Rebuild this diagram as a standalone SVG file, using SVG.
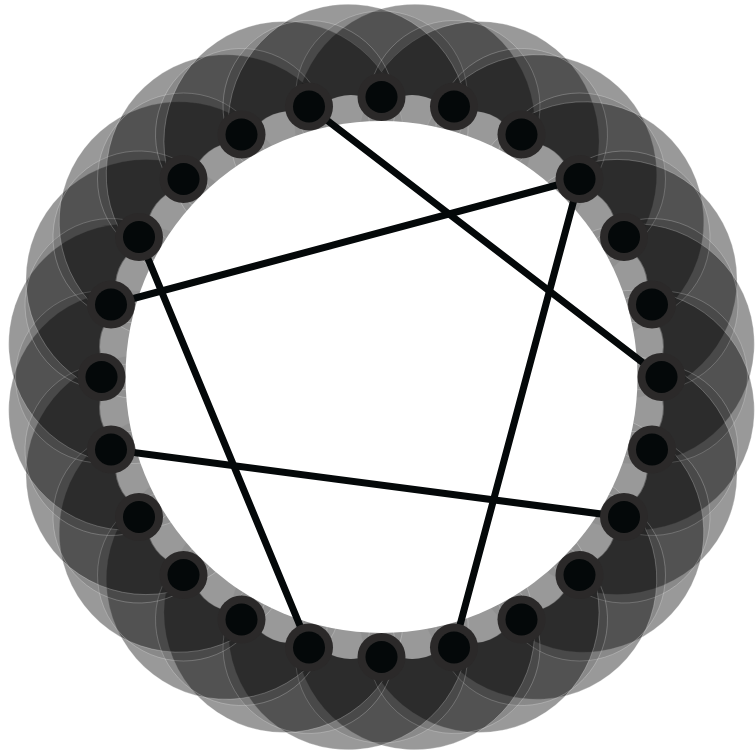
<svg xmlns="http://www.w3.org/2000/svg" width="755" height="754" viewBox="0 0 755 754">
<style>
.halo{fill:#000;fill-opacity:0.4;stroke:#fff;stroke-opacity:0.35;stroke-width:0.8}
.halo2{fill:#000;fill-opacity:0.1;stroke:#fff;stroke-opacity:0.3;stroke-width:0.7}
.cres{fill:#fff}
.edge{stroke:#040809;stroke-width:7;fill:none;stroke-linecap:round}
.ring{fill:#2b2929}
.dot{fill:#040809}
</style>
<defs>
<circle id="hc" class="halo" cx="0" cy="-255" r="120"/>
<circle id="hn" class="halo2" cx="0" cy="-280" r="86"/>
<ellipse id="cc" class="cres" cx="0" cy="-257" rx="36" ry="27"/>
</defs>
<rect width="755" height="754" fill="#fff"/>
<g id="halos" transform="translate(381.5,377)">
<use href="#hc" transform="rotate(7.5)"/>
<use href="#hc" transform="rotate(22.5)"/>
<use href="#hc" transform="rotate(37.5)"/>
<use href="#hc" transform="rotate(52.5)"/>
<use href="#hc" transform="rotate(67.5)"/>
<use href="#hc" transform="rotate(82.5)"/>
<use href="#hc" transform="rotate(97.5)"/>
<use href="#hc" transform="rotate(112.5)"/>
<use href="#hc" transform="rotate(127.5)"/>
<use href="#hc" transform="rotate(142.5)"/>
<use href="#hc" transform="rotate(157.5)"/>
<use href="#hc" transform="rotate(172.5)"/>
<use href="#hc" transform="rotate(187.5)"/>
<use href="#hc" transform="rotate(202.5)"/>
<use href="#hc" transform="rotate(217.5)"/>
<use href="#hc" transform="rotate(232.5)"/>
<use href="#hc" transform="rotate(247.5)"/>
<use href="#hc" transform="rotate(262.5)"/>
<use href="#hc" transform="rotate(277.5)"/>
<use href="#hc" transform="rotate(292.5)"/>
<use href="#hc" transform="rotate(307.5)"/>
<use href="#hc" transform="rotate(322.5)"/>
<use href="#hc" transform="rotate(337.5)"/>
<use href="#hc" transform="rotate(352.5)"/>
<use href="#hn" transform="rotate(0)"/>
<use href="#hn" transform="rotate(15)"/>
<use href="#hn" transform="rotate(30)"/>
<use href="#hn" transform="rotate(45)"/>
<use href="#hn" transform="rotate(60)"/>
<use href="#hn" transform="rotate(75)"/>
<use href="#hn" transform="rotate(90)"/>
<use href="#hn" transform="rotate(105)"/>
<use href="#hn" transform="rotate(120)"/>
<use href="#hn" transform="rotate(135)"/>
<use href="#hn" transform="rotate(150)"/>
<use href="#hn" transform="rotate(165)"/>
<use href="#hn" transform="rotate(180)"/>
<use href="#hn" transform="rotate(195)"/>
<use href="#hn" transform="rotate(210)"/>
<use href="#hn" transform="rotate(225)"/>
<use href="#hn" transform="rotate(240)"/>
<use href="#hn" transform="rotate(255)"/>
<use href="#hn" transform="rotate(270)"/>
<use href="#hn" transform="rotate(285)"/>
<use href="#hn" transform="rotate(300)"/>
<use href="#hn" transform="rotate(315)"/>
<use href="#hn" transform="rotate(330)"/>
<use href="#hn" transform="rotate(345)"/>
<g opacity="0.52">
<use href="#cc" transform="rotate(7.5)"/>
<use href="#cc" transform="rotate(22.5)"/>
<use href="#cc" transform="rotate(37.5)"/>
<use href="#cc" transform="rotate(52.5)"/>
<use href="#cc" transform="rotate(67.5)"/>
<use href="#cc" transform="rotate(82.5)"/>
<use href="#cc" transform="rotate(97.5)"/>
<use href="#cc" transform="rotate(112.5)"/>
<use href="#cc" transform="rotate(127.5)"/>
<use href="#cc" transform="rotate(142.5)"/>
<use href="#cc" transform="rotate(157.5)"/>
<use href="#cc" transform="rotate(172.5)"/>
<use href="#cc" transform="rotate(187.5)"/>
<use href="#cc" transform="rotate(202.5)"/>
<use href="#cc" transform="rotate(217.5)"/>
<use href="#cc" transform="rotate(232.5)"/>
<use href="#cc" transform="rotate(247.5)"/>
<use href="#cc" transform="rotate(262.5)"/>
<use href="#cc" transform="rotate(277.5)"/>
<use href="#cc" transform="rotate(292.5)"/>
<use href="#cc" transform="rotate(307.5)"/>
<use href="#cc" transform="rotate(322.5)"/>
<use href="#cc" transform="rotate(337.5)"/>
<use href="#cc" transform="rotate(352.5)"/>
</g>
<circle cx="0" cy="0" r="256" fill="#fff"/>
</g>
<g id="connectors">
<line class="edge" x1="309" y1="106.5" x2="661.5" y2="377"/>
<line class="edge" x1="579.5" y1="179" x2="111" y2="304.5"/>
<line class="edge" x1="579.5" y1="179" x2="454" y2="647.5"/>
<line class="edge" x1="139" y1="237" x2="309" y2="647.5"/>
<line class="edge" x1="111" y1="449.5" x2="624" y2="517"/>
</g>
<g id="nodes">
<g id="n0"><circle class="ring" cx="381.5" cy="97" r="24"/><circle class="dot" cx="381.5" cy="97" r="16"/></g>
<g id="n1"><circle class="ring" cx="454" cy="106.5" r="24"/><circle class="dot" cx="454" cy="106.5" r="16"/></g>
<g id="n2"><circle class="ring" cx="521.5" cy="134.5" r="24"/><circle class="dot" cx="521.5" cy="134.5" r="16"/></g>
<g id="n3"><circle class="ring" cx="579.5" cy="179" r="24"/><circle class="dot" cx="579.5" cy="179" r="16"/></g>
<g id="n4"><circle class="ring" cx="624" cy="237" r="24"/><circle class="dot" cx="624" cy="237" r="16"/></g>
<g id="n5"><circle class="ring" cx="652" cy="304.5" r="24"/><circle class="dot" cx="652" cy="304.5" r="16"/></g>
<g id="n6"><circle class="ring" cx="661.5" cy="377" r="24"/><circle class="dot" cx="661.5" cy="377" r="16"/></g>
<g id="n7"><circle class="ring" cx="652" cy="449.5" r="24"/><circle class="dot" cx="652" cy="449.5" r="16"/></g>
<g id="n8"><circle class="ring" cx="624" cy="517" r="24"/><circle class="dot" cx="624" cy="517" r="16"/></g>
<g id="n9"><circle class="ring" cx="579.5" cy="575" r="24"/><circle class="dot" cx="579.5" cy="575" r="16"/></g>
<g id="n10"><circle class="ring" cx="521.5" cy="619.5" r="24"/><circle class="dot" cx="521.5" cy="619.5" r="16"/></g>
<g id="n11"><circle class="ring" cx="454" cy="647.5" r="24"/><circle class="dot" cx="454" cy="647.5" r="16"/></g>
<g id="n12"><circle class="ring" cx="381.5" cy="657" r="24"/><circle class="dot" cx="381.5" cy="657" r="16"/></g>
<g id="n13"><circle class="ring" cx="309" cy="647.5" r="24"/><circle class="dot" cx="309" cy="647.5" r="16"/></g>
<g id="n14"><circle class="ring" cx="241.5" cy="619.5" r="24"/><circle class="dot" cx="241.5" cy="619.5" r="16"/></g>
<g id="n15"><circle class="ring" cx="183.5" cy="575" r="24"/><circle class="dot" cx="183.5" cy="575" r="16"/></g>
<g id="n16"><circle class="ring" cx="139" cy="517" r="24"/><circle class="dot" cx="139" cy="517" r="16"/></g>
<g id="n17"><circle class="ring" cx="111" cy="449.5" r="24"/><circle class="dot" cx="111" cy="449.5" r="16"/></g>
<g id="n18"><circle class="ring" cx="101.5" cy="377" r="24"/><circle class="dot" cx="101.5" cy="377" r="16"/></g>
<g id="n19"><circle class="ring" cx="111" cy="304.5" r="24"/><circle class="dot" cx="111" cy="304.5" r="16"/></g>
<g id="n20"><circle class="ring" cx="139" cy="237" r="24"/><circle class="dot" cx="139" cy="237" r="16"/></g>
<g id="n21"><circle class="ring" cx="183.5" cy="179" r="24"/><circle class="dot" cx="183.5" cy="179" r="16"/></g>
<g id="n22"><circle class="ring" cx="241.5" cy="134.5" r="24"/><circle class="dot" cx="241.5" cy="134.5" r="16"/></g>
<g id="n23"><circle class="ring" cx="309" cy="106.5" r="24"/><circle class="dot" cx="309" cy="106.5" r="16"/></g>
</g>
</svg>
